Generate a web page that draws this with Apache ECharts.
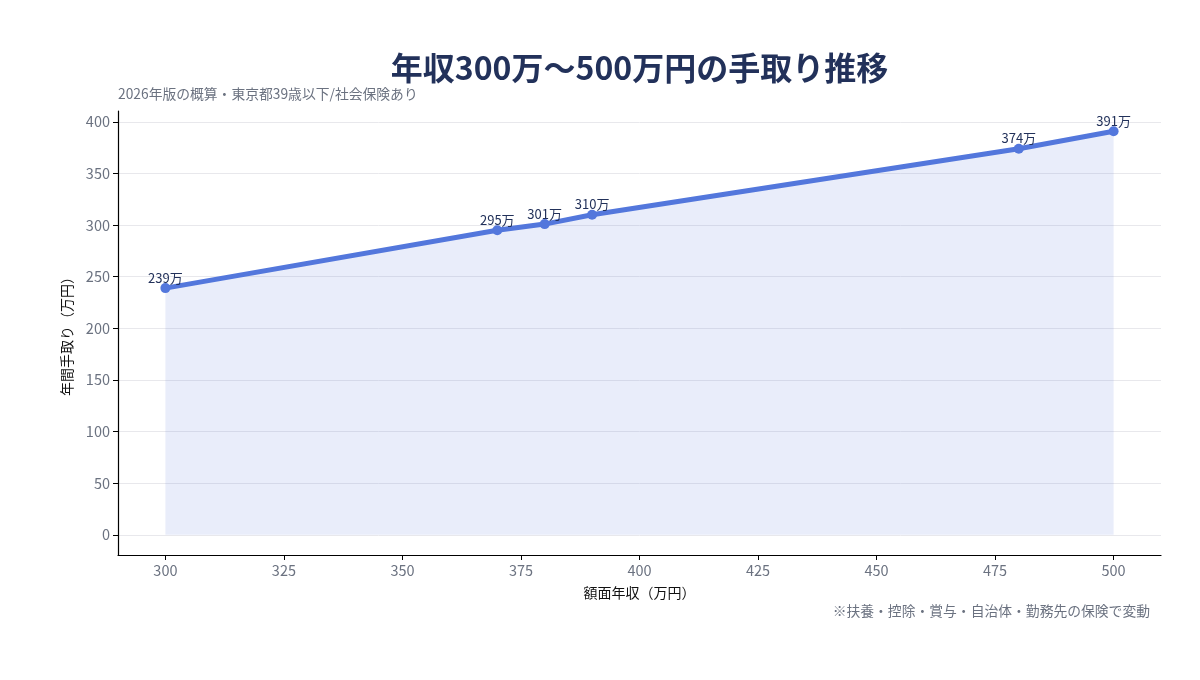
<!DOCTYPE html>
<html><head><meta charset="utf-8">
<script src="https://cdn.jsdelivr.net/npm/echarts@6/dist/echarts.min.js"></script>
<style>html,body{margin:0;padding:0;background:#fff}#c{width:1200px;height:680px}</style>
</head><body><div id="c"></div>
<script>
const incomes = [300, 370, 380, 390, 480, 500];
const takeHome = [239, 295, 301, 310, 374, 391];
const xTicks = [300, 325, 350, 375, 400, 425, 450, 475, 500];
const yTicks = [0, 50, 100, 150, 200, 250, 300, 350, 400];

const FONT = '"Noto Sans CJK JP", "Noto Sans", sans-serif';
const chart = echarts.init(document.getElementById('c'));
chart.setOption({
  backgroundColor: '#fff',
  textStyle: { fontFamily: FONT },
  title: [
    { text: '年収300万〜500万円の手取り推移', left: 639.5, textAlign: 'center', top: 52, padding: 0,
      textStyle: { fontFamily: FONT, fontSize: 32, fontWeight: 'bold', color: '#22315a' } },
    { text: '2026年版の概算・東京都39歳以下/社会保険あり', left: 118, top: 87, padding: 0,
      textStyle: { fontFamily: FONT, fontSize: 13.8, fontWeight: 'normal', color: '#6b7280' } },
    { text: '※扶養・控除・賞与・自治体・勤務先の保険で変動', right: 50, top: 604, padding: 0,
      textStyle: { fontFamily: FONT, fontSize: 13.8, fontWeight: 'normal', color: '#6b7280' } }
  ],
  grid: { left: 118, right: 39, top: 111, bottom: 125, containLabel: false },
  xAxis: {
    type: 'value', min: 290, max: 510,
    name: '額面年収（万円）', nameLocation: 'middle', nameGap: 31,
    nameTextStyle: { fontFamily: FONT, fontSize: 14, color: '#111' },
    axisLine: { show: true, onZero: false, lineStyle: { color: '#000', width: 1.2 } },
    axisTick: { show: true, length: 5, lineStyle: { color: '#000' }, customValues: xTicks },
    axisLabel: { customValues: xTicks, color: '#6b7280', fontSize: 14.5, margin: 8, fontFamily: FONT },
    splitLine: { show: false }
  },
  yAxis: {
    type: 'value', min: -19.55, max: 410.55,
    name: '年間手取り（万円）', nameLocation: 'middle', nameGap: 44, nameRotate: 90,
    nameTextStyle: { fontFamily: FONT, fontSize: 14, color: '#111' },
    axisLine: { show: true, onZero: false, lineStyle: { color: '#000', width: 1.2 } },
    axisTick: { show: true, length: 5, lineStyle: { color: '#000' }, customValues: yTicks },
    axisLabel: { customValues: yTicks, color: '#6b7280', fontSize: 14.5, margin: 8, fontFamily: FONT },
    splitLine: { show: true, lineStyle: { color: '#e8e8ec', width: 1 } }
  },
  series: [{
    type: 'line',
    data: incomes.map((x, i) => [x, takeHome[i]]),
    symbol: 'circle', symbolSize: 10,
    lineStyle: { color: '#5377dc', width: 5 },
    itemStyle: { color: '#5377dc' },
    areaStyle: { color: 'rgba(83,119,220,0.13)', opacity: 1, origin: 0 },
    label: { show: true, position: 'top', distance: -1, formatter: p => p.value[1] + '万',
      color: '#22315a', fontSize: 13, fontFamily: FONT },
    z: 3
  }]
});
</script></body></html>
